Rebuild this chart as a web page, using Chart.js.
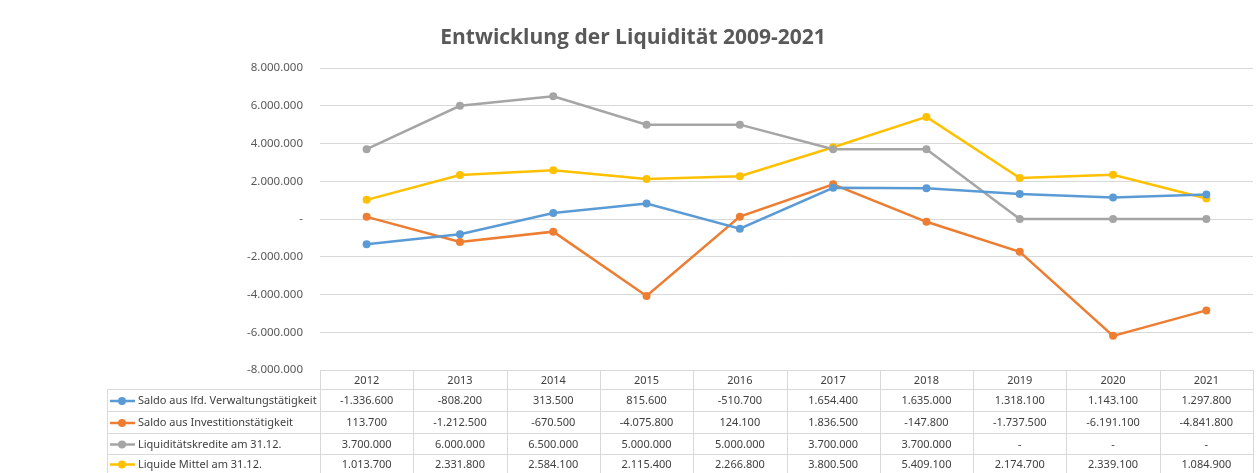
<!DOCTYPE html>
<html>
<head>
<meta charset="utf-8">
<script src="https://cdn.jsdelivr.net/npm/chart.js@4/dist/chart.umd.min.js"></script>
<style>
  html, body { margin: 0; padding: 0; background: #fff; }
  #wrap { width: 1260px; height: 473px; }
</style>
</head>
<body>
<div id="wrap"><canvas id="liqChart" width="1260" height="473"></canvas></div>
<script>
// Daten
const years = ['2012', '2013', '2014', '2015', '2016', '2017', '2018', '2019', '2020', '2021'];
const saldoVerwaltung = [-1336600, -808200, 313500, 815600, -510700, 1654400, 1635000, 1318100, 1143100, 1297800];
const saldoInvestition = [113700, -1212500, -670500, -4075800, 124100, 1836500, -147800, -1737500, -6191100, -4841800];
const liquiditaetskredite = [3700000, 6000000, 6500000, 5000000, 5000000, 3700000, 3700000, 0, 0, 0];
const liquideMittel = [1013700, 2331800, 2584100, 2115400, 2266800, 3800500, 5409100, 2174700, 2339100, 1084900];
const seriesNames = ['Saldo aus lfd. Verwaltungstätigkeit', 'Saldo aus Investitionstätigkeit', 'Liquiditätskredite am 31.12.', 'Liquide Mittel am 31.12.'];
const seriesColors = ['#5b9bd5', '#ed7d31', '#a5a5a5', '#ffc000'];
const yTicks = [-8000000, -6000000, -4000000, -2000000, 0, 2000000, 4000000, 6000000, 8000000];

function fmt(v) {
    if (v === 0) return '-';
    const s = Math.abs(v).toString().replace(/\B(?=(\d{3})+(?!\d))/g, '.');
    return (v < 0 ? '-' : '') + s;
}

const textColor = '#595959';
const gridColor = '#d9d9d9';

// Titel + Datentabelle unter dem Diagramm
const tablePlugin = {
    id: 'dataTable',
    afterDraw(chart) {
        const ctx = chart.ctx;
        const x = chart.scales.x;
        const area = chart.chartArea;
        const step = x.getPixelForValue(1) - x.getPixelForValue(0);
        const left = area.left;
        const right = area.right;
        const tableLeft = 107;
        const headTop = area.bottom;
        const rowTops = [389, 411, 433, 454];
        const bottom = 473;

        ctx.save();
        // title
        ctx.fillStyle = textColor;
        ctx.font = 'bold 21px "Open Sans"';
        ctx.textAlign = 'center';
        ctx.textBaseline = 'middle';
        ctx.fillText('Entwicklung der Liquidität 2009-2021', 633, 38);

        ctx.strokeStyle = gridColor;
        ctx.lineWidth = 1;
        ctx.beginPath();
        // horizontal lines
        ctx.moveTo(left, headTop + 0.5); ctx.lineTo(right, headTop + 0.5);
        rowTops.forEach(t => { ctx.moveTo(tableLeft, t + 0.5); ctx.lineTo(right, t + 0.5); });
        // vertical lines
        for (let i = 0; i <= years.length; i++) {
            const px = Math.round(left + i * step) + 0.5;
            ctx.moveTo(px, headTop); ctx.lineTo(px, bottom);
        }
        ctx.moveTo(tableLeft + 0.5, rowTops[0]); ctx.lineTo(tableLeft + 0.5, bottom);
        ctx.stroke();

        ctx.font = '11px "Noto Sans"';
        ctx.fillStyle = '#404040';
        ctx.textAlign = 'center';
        years.forEach((y, i) => ctx.fillText(y, x.getPixelForValue(i), (headTop + rowTops[0]) / 2 + 1));

        const rows = [saldoVerwaltung, saldoInvestition, liquiditaetskredite, liquideMittel];
        rows.forEach((vals, r) => {
            const top = rowTops[r];
            const bot = r < rowTops.length - 1 ? rowTops[r + 1] : bottom;
            const cy = (top + bot) / 2 + 1;
            vals.forEach((v, i) => {
                ctx.textAlign = 'center';
                ctx.fillStyle = '#404040';
                ctx.fillText(fmt(v), x.getPixelForValue(i), cy);
            });
            // legend key
            ctx.strokeStyle = seriesColors[r];
            ctx.lineWidth = 2.5;
            ctx.beginPath(); ctx.moveTo(110, cy); ctx.lineTo(135, cy); ctx.stroke();
            ctx.fillStyle = seriesColors[r];
            ctx.beginPath(); ctx.arc(122, cy, 4, 0, Math.PI * 2); ctx.fill();
            ctx.fillStyle = '#404040';
            ctx.textAlign = 'left';
            ctx.fillText(seriesNames[r], 138, cy);
        });
        ctx.restore();
    }
};

const ctx = document.getElementById('liqChart').getContext('2d');
new Chart(ctx, {
    type: 'line',
    data: {
        labels: years,
        datasets: [saldoVerwaltung, saldoInvestition, liquiditaetskredite, liquideMittel].map((d, i) => ({
            label: seriesNames[i],
            data: d,
            borderColor: seriesColors[i],
            backgroundColor: seriesColors[i],
            borderWidth: 2.5,
            pointRadius: 4,
            pointBorderWidth: 0,
            tension: 0,
            fill: false
        }))
    },
    options: {
        responsive: false,
        animation: false,
        layout: { padding: { top: 68, right: 7, bottom: 103, left: 0 } },
        plugins: {
            legend: { display: false },
            title: { display: false },
            tooltip: { enabled: false }
        },
        scales: {
            x: {
                offset: true,
                grid: { display: false },
                border: { display: false },
                ticks: { display: false },
                afterFit(s) { s.height = 0; }
            },
            y: {
                min: -8000000,
                max: 8000000,
                afterFit(s) { s.width = 320; },
                afterBuildTicks(s) { s.ticks = yTicks.map(v => ({ value: v })); },
                grid: { color: gridColor, drawTicks: false },
                border: { display: false },
                ticks: {
                    color: textColor,
                    padding: 17,
                    font: { family: 'Noto Sans', size: 11.5 },
                    callback: v => fmt(v)
                }
            }
        }
    },
    plugins: [tablePlugin]
});
</script>
</body>
</html>
